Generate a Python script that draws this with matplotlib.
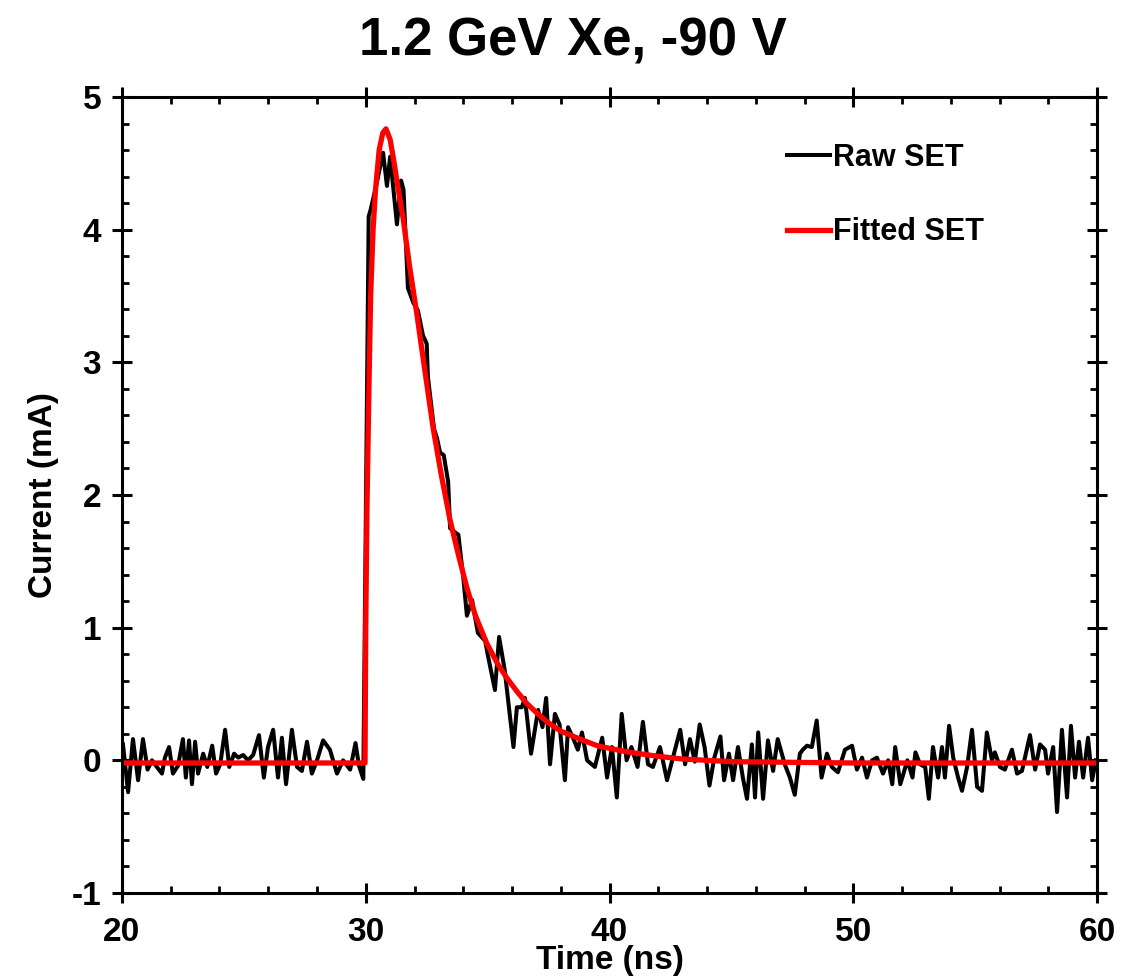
import matplotlib
matplotlib.use("Agg")
import matplotlib.pyplot as plt
from matplotlib.ticker import MultipleLocator

# 字体：Arial 风格的粗体，负号用普通短横
plt.rcParams['font.family'] = ['Liberation Sans', 'DejaVu Sans']
plt.rcParams['font.weight'] = 'bold'
plt.rcParams['axes.unicode_minus'] = False

# 原始 SET 波形（从图上读出的点）
raw_t = [20.04, 20.25, 20.45, 20.66, 20.86, 21.05, 21.23, 21.43, 21.64, 21.76,
         21.93, 22.09, 22.30, 22.50, 22.62, 22.75, 22.87, 23.00, 23.12, 23.33,
         23.50, 23.70, 23.86, 24.03, 24.23, 24.40, 24.60, 24.77, 24.97, 25.17,
         25.38, 25.62, 25.82, 25.99, 26.20, 26.40, 26.56, 26.73, 26.97, 27.18,
         27.38, 27.59, 27.79, 28.00, 28.25, 28.53, 28.82, 29.07, 29.36, 29.58,
         29.72, 29.90, 30.12, 30.20, 30.45, 30.71, 30.87, 31.00, 31.28, 31.45,
         31.55, 31.73, 31.95, 32.14, 32.35, 32.43, 32.50, 32.55, 32.80, 32.92,
         33.05, 33.20, 33.38, 33.46, 33.65, 33.80, 34.00, 34.15, 34.36, 34.60,
         34.90, 35.00, 35.30, 35.47, 35.70, 36.06, 36.20, 36.40, 36.53, 36.78,
         37.07, 37.25, 37.40, 37.56, 37.76, 37.95, 38.17, 38.30, 38.50, 38.70,
         38.87, 39.08, 39.40, 39.70, 39.90, 40.10, 40.30, 40.50, 40.70, 40.90,
         41.15, 41.37, 41.58, 41.78, 42.07, 42.36, 42.60, 42.90, 43.10, 43.30,
         43.50, 43.70, 43.90, 44.10, 44.30, 44.55, 44.70, 44.90, 45.07, 45.27,
         45.47, 45.64, 45.84, 45.97, 46.10, 46.30, 46.50, 46.71, 46.90, 47.19,
         47.40, 47.60, 47.81, 47.93, 48.10, 48.30, 48.50, 48.70, 48.92, 49.12,
         49.37, 49.66, 49.95, 50.15, 50.36, 50.56, 50.77, 50.97, 51.22, 51.43,
         51.60, 51.72, 51.93, 52.22, 52.43, 52.55, 52.74, 52.95, 53.10, 53.27,
         53.48, 53.64, 53.76, 53.93, 54.10, 54.30, 54.46, 54.67, 54.87, 55.08,
         55.28, 55.48, 55.69, 55.81, 56.02, 56.22, 56.51, 56.72, 56.92, 57.25,
         57.46, 57.66, 57.87, 57.99, 58.20, 58.36, 58.56, 58.77, 58.93, 59.10,
         59.26, 59.43, 59.63, 59.80, 59.95]
raw_i = [0.12, -0.24, 0.16, -0.15, 0.16, -0.07, 0.00, -0.05, -0.10, 0.02,
         0.10, -0.10, -0.04, 0.16, -0.13, 0.15, -0.18, 0.14, -0.10, 0.05,
         -0.05, 0.11, -0.10, -0.03, 0.23, -0.05, 0.05, 0.02, 0.04, 0.00,
         0.04, 0.19, -0.13, 0.10, 0.23, -0.13, 0.17, -0.18, 0.23, -0.05,
         -0.08, 0.14, -0.10, 0.00, 0.15, 0.08, -0.10, 0.00, -0.07, 0.13,
         -0.04, -0.14, 4.10, 4.15, 4.35, 4.58, 4.33, 4.55, 4.04, 4.37,
         4.30, 3.56, 3.45, 3.39, 3.20, 3.17, 3.14, 2.89, 2.50, 2.43,
         2.32, 2.30, 2.10, 1.75, 1.72, 1.70, 1.38, 1.09, 1.21, 0.96,
         0.90, 0.80, 0.53, 0.93, 0.68, 0.10, 0.40, 0.40, 0.47, 0.05,
         0.38, 0.25, 0.47, -0.03, 0.35, 0.27, -0.15, 0.25, 0.17, 0.08,
         0.21, 0.00, -0.05, 0.17, -0.13, 0.10, -0.28, 0.35, 0.00, 0.10,
         -0.05, 0.29, -0.03, -0.05, 0.10, -0.15, 0.02, 0.23, -0.03, 0.16,
         -0.01, 0.27, 0.10, -0.19, 0.02, 0.18, -0.15, 0.05, -0.15, 0.10,
         -0.13, -0.29, 0.12, -0.28, 0.21, -0.29, 0.15, -0.08, 0.16, -0.03,
         -0.13, -0.26, 0.05, 0.08, 0.11, 0.10, 0.30, -0.13, 0.05, -0.05,
         -0.09, 0.08, 0.11, -0.07, 0.02, -0.13, 0.00, 0.02, -0.10, 0.00,
         -0.18, 0.10, -0.18, 0.00, -0.13, 0.06, -0.03, -0.05, -0.29, 0.10,
         -0.13, 0.10, -0.13, 0.26, 0.02, -0.13, -0.23, -0.05, 0.23, -0.20,
         -0.23, 0.21, 0.00, 0.06, -0.05, -0.07, 0.08, -0.10, -0.08, 0.19,
         -0.07, 0.12, 0.08, -0.10, 0.10, -0.39, 0.23, -0.28, 0.26, -0.13,
         0.14, -0.13, 0.17, -0.15, 0.00]

# 拟合的 SET 曲线（同样从图上读点）
fit_t = [20.0, 29.97, 30.00, 30.05, 30.13, 30.20, 30.30, 30.40, 30.55, 30.70,
         30.83, 31.00, 31.15, 31.32, 31.53, 31.80, 32.10, 32.40, 32.76, 33.10,
         33.46, 33.80, 34.15, 34.50, 34.97, 35.40, 35.79, 36.20, 36.60, 37.00,
         37.44, 38.00, 38.79, 39.50, 40.00, 40.84, 42.00, 43.00, 45.00, 50.00,
         60.00]
fit_i = [-0.02, -0.02, 1.00, 1.90, 2.80, 3.50, 4.00, 4.30, 4.60, 4.73,
         4.76, 4.68, 4.52, 4.32, 4.09, 3.72, 3.36, 2.97, 2.51, 2.15,
         1.81, 1.55, 1.30, 1.09, 0.88, 0.73, 0.62, 0.52, 0.43, 0.36,
         0.29, 0.22, 0.16, 0.11, 0.09, 0.06, 0.03, 0.01, -0.01, -0.02,
         -0.02]

title = "1.2 GeV Xe, -90 V"
x_label = "Time (ns)"
y_label = "Current (mA)"


def style_axes(ax):
    """坐标轴、刻度的样式"""
    ax.set_xlim(20, 60)
    ax.set_ylim(-1, 5)
    ax.xaxis.set_major_locator(MultipleLocator(10))
    ax.xaxis.set_minor_locator(MultipleLocator(2))
    ax.yaxis.set_major_locator(MultipleLocator(1))
    ax.yaxis.set_minor_locator(MultipleLocator(0.2))
    ax.tick_params(which='major', direction='inout', length=14, width=2.2,
                   top=True, right=True, labelsize=24)
    ax.tick_params(axis='x', which='major', pad=10)
    ax.tick_params(axis='y', which='major', pad=8)
    ax.tick_params(which='minor', direction='in', length=5, width=2.0,
                   top=True, right=True)
    for s in ax.spines.values():
        s.set_linewidth(2.2)
    for lab in ax.get_xticklabels() + ax.get_yticklabels():
        lab.set_fontweight('bold')


def draw():
    fig = plt.figure(figsize=(11.38, 9.8), dpi=100)
    ax = fig.add_axes([0.1072, 0.0888, 0.8568, 0.8122])

    ax.plot(raw_t, raw_i, color='black', lw=2.9, label='Raw SET',
            solid_joinstyle='round')
    ax.plot(fit_t, fit_i, color='red', lw=3.8, label='Fitted SET',
            solid_joinstyle='round')

    style_axes(ax)
    ax.set_xlabel(x_label, fontsize=24, fontweight='bold', labelpad=-2)
    ax.set_ylabel(y_label, fontsize=24, fontweight='bold', labelpad=9)

    fig.text(0.503, 1 - 55 / 980, title, fontsize=38, fontweight='bold',
             ha='center', va='baseline')

    ax.legend(loc='upper left', bbox_to_anchor=(0.682, 0.942), frameon=False,
              fontsize=22, handlelength=1.4, handletextpad=0.12,
              labelspacing=1.45, borderpad=0, borderaxespad=0)

    fig.savefig('out.png', dpi=100)


draw()
